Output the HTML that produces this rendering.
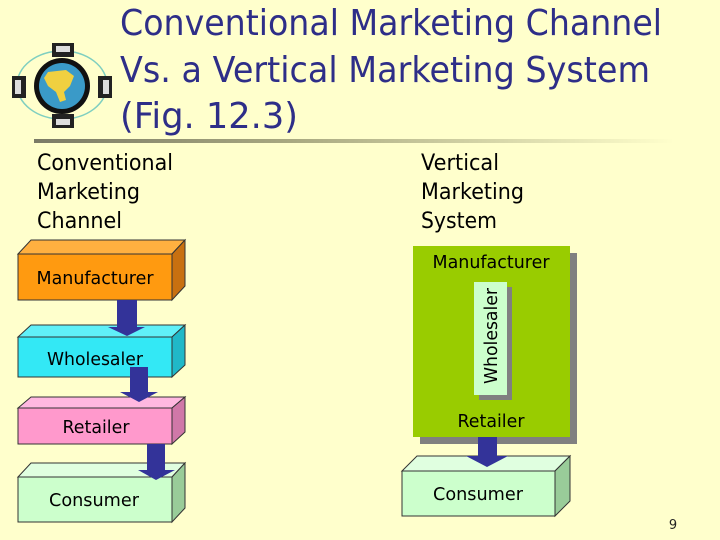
<!DOCTYPE html>
<html><head><meta charset="utf-8"><style>
html,body{margin:0;padding:0;background:#ffffcc;}
svg{display:block;font-family:Tahoma,"DejaVu Sans","Liberation Sans",sans-serif;}
</style></head><body>
<svg width="720" height="540" viewBox="0 0 720 540" xmlns="http://www.w3.org/2000/svg">
<defs>
<linearGradient id="rule" x1="0" x2="1" y1="0" y2="0">
<stop offset="0" stop-color="#7a7a66"/><stop offset="0.4" stop-color="#a8a880"/><stop offset="1" stop-color="#ffffcc"/>
</linearGradient>
</defs>
<rect width="720" height="540" fill="#ffffcc"/>

<!-- globe icon -->
<ellipse cx="62" cy="85" rx="45" ry="34" fill="none" stroke="#7fcfc0" stroke-width="1.5"/>
<circle cx="62" cy="86" r="28" fill="#111"/>
<circle cx="62" cy="86" r="23" fill="#3a9ac8"/>
<path d="M48 72 L66 70 L74 76 L70 86 L64 92 L66 100 L60 102 L56 92 L48 86 L44 78 Z" fill="#f0d040"/>
<rect x="52" y="43" width="22" height="14" fill="#222"/><rect x="56" y="46" width="14" height="6" fill="#ddd"/>
<rect x="52" y="114" width="22" height="14" fill="#222"/><rect x="56" y="119" width="14" height="6" fill="#ddd"/>
<rect x="12" y="76" width="14" height="22" fill="#222"/><rect x="15" y="80" width="6" height="14" fill="#ddd"/>
<rect x="98" y="76" width="14" height="22" fill="#222"/><rect x="103" y="80" width="6" height="14" fill="#ddd"/>

<!-- title -->
<g fill="#2e2e88" font-size="36">
<text x="120" y="35" textLength="542" lengthAdjust="spacingAndGlyphs">Conventional Marketing Channel</text>
<text x="120" y="82" textLength="530" lengthAdjust="spacingAndGlyphs">Vs. a Vertical Marketing System</text>
<text x="120" y="128" textLength="178" lengthAdjust="spacingAndGlyphs">(Fig. 12.3)</text>
</g>
<rect x="34" y="139" width="640" height="4" fill="url(#rule)"/>

<g fill="#000" font-size="22">
<text x="37" y="170" textLength="136" lengthAdjust="spacingAndGlyphs">Conventional</text>
<text x="37" y="199" textLength="103" lengthAdjust="spacingAndGlyphs">Marketing</text>
<text x="37" y="228" textLength="85" lengthAdjust="spacingAndGlyphs">Channel</text>
<text x="421" y="170" textLength="78" lengthAdjust="spacingAndGlyphs">Vertical</text>
<text x="421" y="199" textLength="103" lengthAdjust="spacingAndGlyphs">Marketing</text>
<text x="421" y="228" textLength="76" lengthAdjust="spacingAndGlyphs">System</text>
</g>

<!-- left boxes -->
<g stroke="#333" stroke-width="1">
<polygon points="18,254 31,240 185,240 172,254" fill="#ffb040"/>
<polygon points="172,254 185,240 185,286 172,300" fill="#c87010"/>
<rect x="18" y="254" width="154" height="46" fill="#ff9a10"/>

<polygon points="18,337 31,325 185,325 172,337" fill="#60f0f8"/>
<polygon points="172,337 185,325 185,365 172,377" fill="#20b8c8"/>
<rect x="18" y="337" width="154" height="40" fill="#33e8f5"/>

<polygon points="18,408 31,397 185,397 172,408" fill="#ffb8e0"/>
<polygon points="172,408 185,397 185,432 172,444" fill="#d078a8"/>
<rect x="18" y="408" width="154" height="36" fill="#ff99cc"/>

<polygon points="18,477 31,463 185,463 172,477" fill="#e0ffe0"/>
<polygon points="172,477 185,463 185,508 172,522" fill="#99cc99"/>
<rect x="18" y="477" width="154" height="45" fill="#ccffcc"/>
</g>
<g font-size="18" fill="#000" text-anchor="middle">
<text x="95" y="284" textLength="117" lengthAdjust="spacingAndGlyphs">Manufacturer</text>
<text x="95" y="365" textLength="96" lengthAdjust="spacingAndGlyphs">Wholesaler</text>
<text x="96" y="433" textLength="67" lengthAdjust="spacingAndGlyphs">Retailer</text>
<text x="94" y="506" textLength="90" lengthAdjust="spacingAndGlyphs">Consumer</text>
</g>
<g fill="#333399">
<polygon points="117,300 137,300 137,327 145,327 127,336 108,327 117,327"/>
<polygon points="130,367 148,367 148,392 158,392 139,402 120,392 130,392"/>
<polygon points="147,444 165,444 165,470 175,470 156,480 138,470 147,470"/>
</g>

<!-- right -->
<rect x="420" y="253" width="157" height="191" fill="#808080"/>
<rect x="413" y="246" width="157" height="191" fill="#99cc00"/>
<rect x="479" y="287" width="33" height="113" fill="#808080"/>
<rect x="474" y="282" width="33" height="113" fill="#ccffcc"/>
<g font-size="18" fill="#000" text-anchor="middle">
<text x="491" y="268" textLength="117" lengthAdjust="spacingAndGlyphs">Manufacturer</text>
<text x="491" y="427" textLength="67" lengthAdjust="spacingAndGlyphs">Retailer</text>
<text transform="translate(497,336) rotate(-90)" textLength="96" lengthAdjust="spacingAndGlyphs">Wholesaler</text>
</g>
<g stroke="#333" stroke-width="1">
<polygon points="402,471 417,456 570,456 555,471" fill="#e0ffe0"/>
<polygon points="555,471 570,456 570,501 555,516" fill="#99cc99"/>
<rect x="402" y="471" width="153" height="45" fill="#ccffcc"/>
</g>
<text x="478" y="500" font-size="18" text-anchor="middle" fill="#000" textLength="90" lengthAdjust="spacingAndGlyphs">Consumer</text>
<polygon points="478,437 497,437 497,456 508,456 487,467 466,456 478,456" fill="#333399"/>

<text x="673" y="529" font-size="13" text-anchor="middle" fill="#222">9</text>
</svg>
</body></html>
